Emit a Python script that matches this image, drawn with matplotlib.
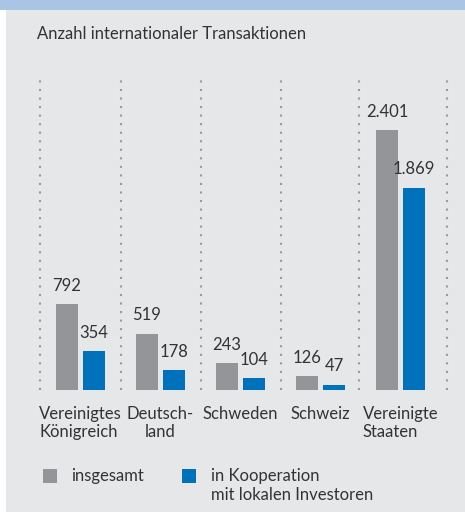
import matplotlib.pyplot as plt
from matplotlib.patches import Rectangle

# data
laender = ['Vereinigtes\nKönigreich', 'Deutsch-\nland', 'Schweden', 'Schweiz', 'Vereinigte\nStaaten']
insgesamt = [792, 519, 243, 126, 2401]
kooperation = [354, 178, 104, 47, 1869]
legende = ['insgesamt', 'in Kooperation\nmit lokalen Investoren']
titel = 'Anzahl internationaler Transaktionen'

grau = '#939598'
blau = '#0071bb'
hg = '#e6e7e9'
txt = '#333333'
fs = 12

plt.rcParams['font.family'] = ['Lato', 'DejaVu Sans']

W, H = 465, 512
fig = plt.figure(figsize=(W / 100, H / 100), dpi=100)
fig.patch.set_facecolor('white')

def fx(px):
    return px / W

def fy(py):
    return 1 - py / H

# panel background and top strip
fig.patches.append(Rectangle((fx(6), 0), 1 - fx(6), fy(10), transform=fig.transFigure,
                             facecolor=hg, edgecolor='none', zorder=-10))
fig.patches.append(Rectangle((0, fy(10)), 1, 1 - fy(10), transform=fig.transFigure,
                             facecolor='#a9c4e4', edgecolor='none', zorder=-10))

fig.text(fx(37), fy(39), titel, fontsize=fs, color=txt, va='baseline', ha='left')

ax = fig.add_axes([fx(40), fy(389.7), fx(447) - fx(40), fy(75) - fy(389.7)])
ax.set_facecolor('none')
ax.set_xlim(-0.506, 4.58)
ax.set_ylim(0, 2910)
for s in ax.spines.values():
    s.set_visible(False)

x = list(range(len(laender)))
off = 13.5 / 80
bw = 22 / 80
ax.bar([i - off for i in x], insgesamt, width=bw, color=grau, zorder=3)
ax.bar([i + off for i in x], kooperation, width=bw, color=blau, zorder=3)

def fmt(v):
    return f'{v:,}'.replace(',', '.')

for i in x:
    ax.annotate(fmt(insgesamt[i]), (i - off, insgesamt[i]), xytext=(0, 9.5),
                textcoords='offset points', ha='center', va='baseline',
                fontsize=fs, color=txt)
    ax.annotate(fmt(kooperation[i]), (i + off, kooperation[i]), xytext=(0, 9.5),
                textcoords='offset points', ha='center', va='baseline',
                fontsize=fs, color=txt)

# dotted separators
trenner = [-0.5, 0.5, 1.5, 2.51, 3.48, 4.58]
for t in trenner:
    ax.axvline(t, color='#9a9a9a', linewidth=1.5, linestyle=(0, (1, 3.1)),
               dash_capstyle='butt', zorder=1, clip_on=False)

ax.set_yticks([])
ax.set_xticks(x)
ax.set_xticklabels(laender, fontsize=fs, color=txt, linespacing=1.2)
ax.tick_params(axis='x', length=0, pad=11.5)
for lab, ma in zip(ax.get_xticklabels(), ['left', 'center', 'center', 'center', 'left']):
    lab.set_multialignment(ma)

# legend
for px, col in [(43, grau), (182, blau)]:
    fig.patches.append(Rectangle((fx(px), fy(483)), fx(14), fy(469) - fy(483),
                                 transform=fig.transFigure, facecolor=col,
                                 edgecolor='none', zorder=2))
fig.text(fx(71), fy(481), legende[0], fontsize=fs, color=txt, va='baseline')
fig.text(fx(211), fy(481), legende[1].split('\n')[0], fontsize=fs, color=txt, va='baseline')
fig.text(fx(211), fy(500), legende[1].split('\n')[1], fontsize=fs, color=txt, va='baseline')

fig.savefig('out.png', dpi=100)
